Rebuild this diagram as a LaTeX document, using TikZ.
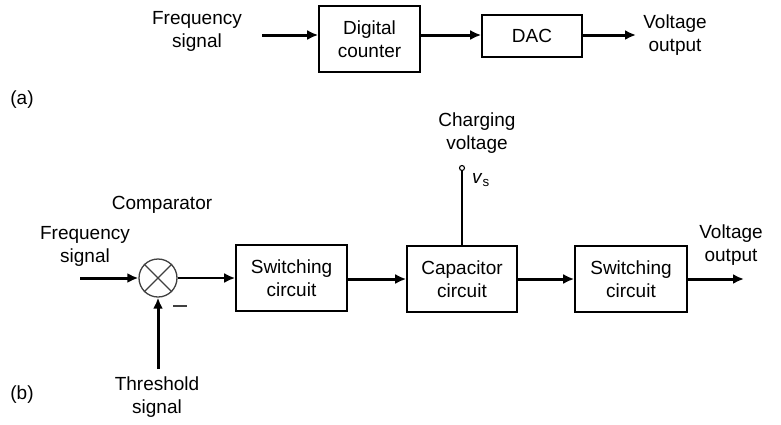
\documentclass[tikz,border=0pt]{standalone}
\usepackage{fontspec}
\setmainfont{Liberation Sans}
\usetikzlibrary{arrows.meta}
\begin{document}
\begin{tikzpicture}[x=1pt,y=-1pt,
  every node/.style={font=\fontsize{19}{23}\selectfont, text=black},
  txt/.style={align=center, inner sep=0pt},
  blk/.style={draw, line width=1.6pt, align=center, inner sep=0pt, minimum height=66pt},
  arr/.style={line width=3pt, -{Latex[length=11pt,width=10pt]}},
  thin/.style={line width=1.3pt}]
\useasboundingbox (0,0) rectangle (781,424);

% ---- (a) ----
\node[txt] (fsa) at (197,31.5) {Frequency\\signal};
\node[blk, minimum width=101pt] (dc) at (369.5,39) {Digital\\counter};
\node[blk, minimum width=100pt, minimum height=42pt] (dac) at (532,36) {DAC};
\node[txt] (voa) at (675,35) {Voltage\\output};
\node[txt] (la) at (22,100) {(a)};
\coordinate (ina) at (262,35);
\coordinate (outa) at (636,35);
\draw[arr] (ina) -- (dc.west |- ina);
\draw[arr] (dc.east |- ina) -- (dac.west |- ina);
\draw[arr] (dac.east |- ina) -- (outa);

% ---- (b) ----
\node[txt] (comp) at (162,205) {Comparator};
\node[txt] (fsb) at (85,246.5) {Frequency\\signal};
\node[draw, circle, line width=1.3pt, draw=black!75, minimum size=38pt, inner sep=0pt] (cmp) at (158,278) {};
\draw[line width=1.3pt, draw=black!75] (cmp.north east) -- (cmp.south west);
\draw[line width=1.3pt, draw=black!75] (cmp.north west) -- (cmp.south east);
\node[blk, minimum width=111pt] (sw1) at (291.5,278) {Switching\\circuit};
\node[blk, minimum width=110pt] (cap) at (462,279) {Capacitor\\circuit};
\node[blk, minimum width=112pt] (sw2) at (631,279) {Switching\\circuit};
\node[txt] (vob) at (731,245) {Voltage\\output};
\node[txt] (thr) at (157,397.5) {Threshold\\signal};
\node[txt] (lb) at (22,395) {(b)};
\node[txt] (chg) at (477,133.5) {Charging\\voltage};
\node[draw, circle, line width=1.1pt, minimum size=5pt, inner sep=0pt] (vs) at (462,168) {};
\node[txt, anchor=west] (vsl) at (472,180) {\textit{v}\textsubscript{s}};
\coordinate (inb) at (80,278);
\coordinate (thin0) at (158,369);
\coordinate (outb) at (744,279);
\coordinate (m1) at (173,306);
\coordinate (m2) at (187,306);

\draw[arr] (inb) -- (cmp.west);
\draw[arr] (thin0) -- (cmp.south);
\draw[arr, line width=2.3pt] (cmp.east) -- (sw1.west |- cmp.east);
\draw[arr] (sw1.east |- cap.west) -- (cap.west);
\draw[arr] (cap.east) -- (sw2.west);
\draw[arr] (sw2.east) -- (outb);
\draw[thin] (cap.north) -- (vs.south);
\draw[line width=1.6pt, draw=black!75] (m1) -- (m2);
\end{tikzpicture}
\end{document}
